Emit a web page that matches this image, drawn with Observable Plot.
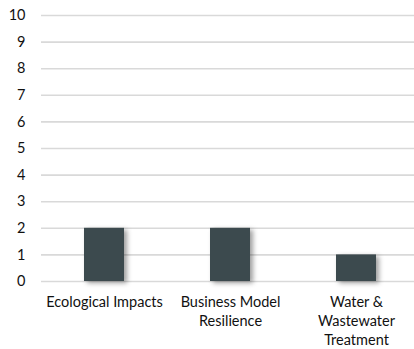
<!DOCTYPE html>
<html>
<head>
<meta charset="utf-8">
<script src="https://cdn.jsdelivr.net/npm/d3@7"></script>
<script src="https://cdn.jsdelivr.net/npm/@observablehq/plot@0.6"></script>
<style>
  html, body { margin: 0; padding: 0; background: #fff; overflow: hidden; }
  #chart { width: 414px; height: 349px; overflow: hidden; }
  .bars { filter: drop-shadow(3px 2px 2.5px rgba(0, 0, 0, 0.38)); }
</style>
</head>
<body>
<div id="chart"></div>
<script>
// Topic categories and their counts
const categories = ["Ecological Impacts", "Business Model Resilience", "Water & Wastewater Treatment"];
const counts = [2, 2, 1];
// Wrapped axis labels for each category
const tickLabels = ["Ecological Impacts", "Business Model\nResilience", "Water &\nWastewater\nTreatment"];
const yTicks = [0, 1, 2, 3, 4, 5, 6, 7, 8, 9, 10];

const data = categories.map((c, i) => ({category: c, count: counts[i]}));
const labelOf = new Map(categories.map((c, i) => [c, tickLabels[i]]));

const chart = Plot.plot({
  width: 414,
  height: 349,
  marginTop: 15,
  marginBottom: 68,
  marginLeft: 41,
  marginRight: -5,
  style: {fontFamily: "Lato, 'Open Sans', sans-serif", fontSize: "14.5px", color: "#111", background: "#fff", overflow: "visible"},
  x: {domain: categories, paddingInner: 0.683, paddingOuter: 0.3415, align: 0.5, label: null},
  y: {domain: [0, 10], label: null},
  marks: [
    Plot.ruleY(yTicks, {stroke: "#d9d9d9", strokeWidth: 1.6}),
    Plot.barY(data, {x: "category", y: "count", fill: "#3c4a4e", className: "bars"}),
    Plot.axisY(yTicks, {tickSize: 0, tickPadding: 16, fontSize: 14.5, label: null}),
    Plot.axisX({tickSize: 0, tickPadding: 12, fontSize: 14.5, lineHeight: 1.3, tickFormat: d => labelOf.get(d), label: null})
  ]
});
document.getElementById("chart").appendChild(chart);
</script>
</body>
</html>
